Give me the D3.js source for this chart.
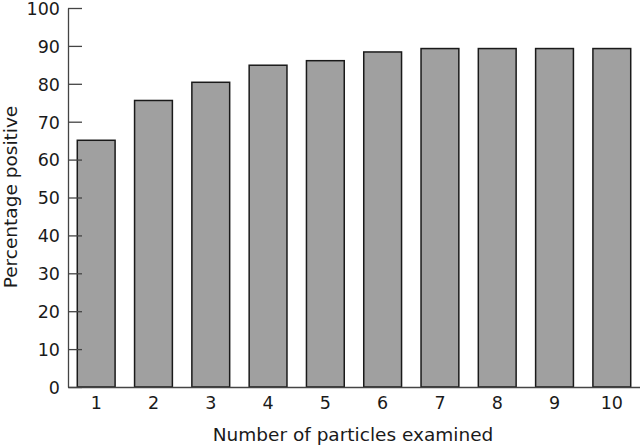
<!DOCTYPE html>
<html><head><meta charset="utf-8">
<script src="https://cdn.jsdelivr.net/npm/d3@7"></script>
<style>
html,body{margin:0;padding:0;background:#fff;}
text{font-family:"DejaVu Sans",sans-serif;fill:#1a1a1a;}
</style>
</head><body>
<svg id="chart" width="640" height="445"></svg>
<script>
const categories = ["1","2","3","4","5","6","7","8","9","10"];
const values = [65.1, 75.6, 80.4, 84.9, 86.1, 88.4, 89.3, 89.3, 89.3, 89.3];
const yTicks = [0,10,20,30,40,50,60,70,80,90,100];
const xTitle = "Number of particles examined";
const yTitle = "Percentage positive";

const svg = d3.select("#chart");
const x = d3.scaleBand().domain(categories).range([68, 640]).paddingInner(0.34).paddingOuter(0.162);
const y = d3.scaleLinear().domain([0,100]).range([387, 8]);

svg.selectAll("rect.bar").data(values).enter().append("rect")
  .attr("class","bar")
  .attr("x",(d,i)=>x(categories[i]))
  .attr("y",d=>y(d))
  .attr("width",x.bandwidth())
  .attr("height",d=>y(0)-y(d))
  .attr("fill","#a0a0a0").attr("stroke","#1a1a1a").attr("stroke-width",1.5);

const yAxis = svg.append("g").attr("transform","translate(68,0)")
  .call(d3.axisLeft(y).tickValues(yTicks).tickSizeInner(-14).tickSizeOuter(0).tickPadding(8));
yAxis.selectAll("text").style("font-size","17.5px").attr("dy","0.36em");
yAxis.selectAll("line,path").attr("stroke","#444").attr("stroke-width",1.3);

const xAxis = svg.append("g").attr("transform","translate(0,387)")
  .call(d3.axisBottom(x).tickSize(0).tickPadding(10));
xAxis.selectAll("text").style("font-size","17.5px");
xAxis.select("path").attr("stroke","#444").attr("stroke-width",1.3);

svg.append("text").attr("x",353).attr("y",441).attr("text-anchor","middle")
  .style("font-size","18.5px").text(xTitle);
svg.append("text").attr("transform","translate(17,197) rotate(-90)").attr("text-anchor","middle")
  .style("font-size","18.5px").text(yTitle);
</script>
</body></html>
